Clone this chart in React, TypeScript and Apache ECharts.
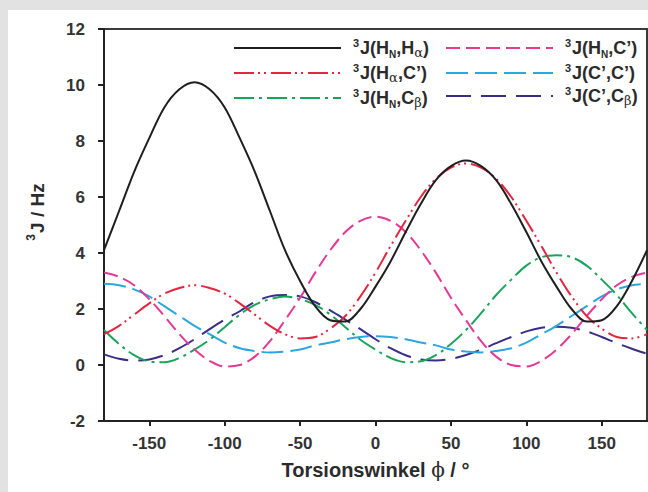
import React, { useEffect, useRef } from "react";
import * as echarts from "echarts";

// Torsion angle phi (degrees)
const phi = [-180, -170, -160, -150, -140, -130, -120, -110, -100, -90, -80, -70, -60, -50, -40, -30, -20, -10, 0, 10, 20, 30, 40, 50, 60, 70, 80, 90, 100, 110, 120, 130, 140, 150, 160, 170, 180];

// 3J coupling constants (Hz)
const jHNHa = [4.1, 5.5, 6.9, 8.1, 9.2, 9.85, 10.1, 9.85, 9.2, 8.1, 6.9, 5.5, 4.1, 3.0, 2.1, 1.6, 1.55, 2.0, 2.8, 3.7, 4.75, 5.75, 6.6, 7.1, 7.3, 7.1, 6.6, 5.75, 4.75, 3.7, 2.8, 2.0, 1.55, 1.6, 2.1, 3.0, 4.1];
const jHNC = [3.3, 3.15, 2.85, 2.35, 1.75, 1.1, 0.55, 0.15, -0.05, 0.0, 0.3, 0.85, 1.6, 2.4, 3.3, 4.1, 4.75, 5.15, 5.3, 5.15, 4.75, 4.1, 3.3, 2.4, 1.6, 0.85, 0.3, 0.0, -0.05, 0.15, 0.55, 1.1, 1.75, 2.35, 2.85, 3.15, 3.3];
const jHaC = [1.1, 1.4, 1.8, 2.2, 2.55, 2.75, 2.85, 2.75, 2.55, 2.2, 1.8, 1.4, 1.1, 0.95, 1.0, 1.3, 1.75, 2.45, 3.3, 4.25, 5.15, 6.0, 6.65, 7.05, 7.2, 7.05, 6.65, 6.0, 5.15, 4.25, 3.3, 2.45, 1.75, 1.3, 1.0, 0.95, 1.1];
const jCC = [2.9, 2.85, 2.7, 2.45, 2.1, 1.75, 1.4, 1.1, 0.8, 0.6, 0.5, 0.45, 0.48, 0.55, 0.7, 0.8, 0.92, 1.0, 1.03, 1.0, 0.92, 0.8, 0.7, 0.55, 0.48, 0.45, 0.5, 0.6, 0.8, 1.1, 1.4, 1.75, 2.1, 2.45, 2.7, 2.85, 2.9];
const jHNCb = [1.25, 0.75, 0.35, 0.13, 0.1, 0.25, 0.55, 0.9, 1.35, 1.8, 2.15, 2.35, 2.45, 2.35, 2.15, 1.8, 1.35, 0.9, 0.55, 0.25, 0.1, 0.13, 0.35, 0.75, 1.25, 1.85, 2.5, 3.05, 3.55, 3.85, 3.92, 3.85, 3.55, 3.05, 2.5, 1.85, 1.25];
const jCCb = [0.38, 0.22, 0.16, 0.2, 0.35, 0.6, 0.92, 1.28, 1.62, 1.92, 2.25, 2.45, 2.5, 2.45, 2.25, 1.95, 1.62, 1.28, 0.92, 0.6, 0.35, 0.2, 0.16, 0.22, 0.36, 0.55, 0.78, 1.0, 1.2, 1.33, 1.37, 1.33, 1.2, 1.0, 0.78, 0.58, 0.4];

const xTicks = [-150, -100, -50, 0, 50, 100, 150];

const FONT = "Liberation Sans, Arial, sans-serif";
const GREEK = "DejaVu Serif, Liberation Serif, serif";

const names = {
  HNHa: "3J(HN,Hα)",
  HaC: "3J(Hα,C')",
  HNCb: "3J(HN,Cβ)",
  HNC: "3J(HN,C')",
  CC: "3J(C',C')",
  CCb: "3J(C',Cβ)",
};

const richNames: Record<string, string> = {
  [names.HNHa]: "{sup|3}{m|J(H}{s|N}{m|,H}{g|α}{m|)}",
  [names.HaC]: "{sup|3}{m|J(H}{g|α}{m|,C’)}",
  [names.HNCb]: "{sup|3}{m|J(H}{s|N}{m|,C}{g|β}{m|)}",
  [names.HNC]: "{sup|3}{m|J(H}{s|N}{m|,C’)}",
  [names.CC]: "{sup|3}{m|J(C’,C’)}",
  [names.CCb]: "{sup|3}{m|J(C’,C}{g|β}{m|)}",
};

const TXT = "#2b2b2b";
const legendRich = {
  sup: { fontFamily: FONT, fontSize: 11, fontWeight: "bold", color: TXT, verticalAlign: "top", lineHeight: 12, padding: [0, 1, 0, 7] },
  m: { fontFamily: FONT, fontSize: 18, fontWeight: "bold", color: TXT, lineHeight: 22 },
  s: { fontFamily: FONT, fontSize: 10, fontWeight: "bold", color: TXT, verticalAlign: "bottom", lineHeight: 10 },
  g: { fontFamily: GREEK, fontSize: 13, color: TXT, verticalAlign: "bottom", lineHeight: 12 },
};

function pairs(vals: number[]) {
  return phi.map((p, i) => [p, vals[i]]);
}

export default function App() {
  const ref = useRef<HTMLDivElement>(null);

  useEffect(() => {
    if (!ref.current) return;
    const chart = echarts.init(ref.current, undefined, { renderer: "svg" });

    const mk = (name: string, vals: number[], color: string, dash: any, z: number) => ({
      name,
      type: "line",
      data: pairs(vals),
      smooth: 0.35,
      symbol: "none",
      showSymbol: false,
      z,
      lineStyle: { color, width: 2, type: dash },
      itemStyle: { color },
      emphasis: { disabled: true },
    });

    const legendBase = {
      orient: "vertical",
      top: 37,
      padding: 0,
      itemWidth: 107,
      itemHeight: 14,
      itemGap: 3,
      selectedMode: false,
      itemStyle: { opacity: 0 },
      formatter: (n: string) => richNames[n],
      textStyle: { rich: legendRich },
    };

    const option: any = {
      animation: false,
      backgroundColor: "transparent",
      graphic: [
        {
          type: "rect",
          z: -100,
          silent: true,
          shape: { x: 8, y: 10, width: 640, height: 482 },
          style: { fill: "#ffffff" },
        },
      ],
      grid: {
        left: 104,
        top: 29,
        right: 1,
        bottom: 71,
        show: true,
        backgroundColor: "transparent",
        borderColor: "#3a3a3a",
        borderWidth: 2,
      },
      legend: [
        { ...legendBase, left: 233, data: [names.HNHa, names.HaC, names.HNCb] },
        { ...legendBase, left: 445, data: [names.HNC, names.CC, names.CCb] },
      ],
      xAxis: {
        type: "value",
        min: -180,
        max: 180,
        name: "{m|Torsionswinkel }{g|ϕ}{m| / °}",
        nameLocation: "middle",
        nameGap: 37,
        nameTextStyle: {
          rich: {
            m: { fontFamily: FONT, fontSize: 20, fontWeight: "bold", color: TXT, lineHeight: 24 },
            g: { fontFamily: GREEK, fontSize: 20, color: TXT, lineHeight: 24 },
          },
        },
        axisLine: { show: true, onZero: false, lineStyle: { color: "#222", width: 2 } },
        axisTick: { show: true, customValues: xTicks, length: 5, lineStyle: { color: "#222", width: 2 } },
        axisLabel: {
          customValues: xTicks,
          margin: 14,
          fontFamily: FONT,
          fontSize: 17,
          fontWeight: "bold",
          color: "#333",
        },
        splitLine: { show: false },
      },
      yAxis: {
        type: "value",
        min: -2,
        max: 12,
        interval: 2,
        name: "{sup|3}{m|J / Hz}",
        nameLocation: "middle",
        nameGap: 55,
        nameTextStyle: {
          padding: [0, 0, 0, 26],
          rich: {
            sup: { fontFamily: FONT, fontSize: 12, fontWeight: "bold", color: TXT, verticalAlign: "top", lineHeight: 12, padding: [0, 1, 0, 0] },
            m: { fontFamily: FONT, fontSize: 19, fontWeight: "bold", color: TXT, lineHeight: 24 },
          },
        },
        axisLine: { show: true, onZero: false, lineStyle: { color: "#222", width: 2 } },
        axisTick: { show: true, length: 6, lineStyle: { color: "#222", width: 2 } },
        axisLabel: {
          margin: 19,
          fontFamily: FONT,
          fontSize: 17,
          fontWeight: "bold",
          color: "#333",
        },
        splitLine: { show: false },
      },
      series: [
        mk(names.CCb, jCCb, "#3b2d88", [25, 10], 2),
        mk(names.CC, jCC, "#2aa7df", [22, 7], 3),
        mk(names.HNCb, jHNCb, "#1aa35a", [20, 5, 3, 5], 4),
        mk(names.HNC, jHNC, "#e33a96", [14, 6], 5),
        mk(names.HaC, jHaC, "#e4253f", [20, 4, 2, 4, 2, 5], 6),
        mk(names.HNHa, jHNHa, "#1e1e1e", "solid", 7),
      ],
    };

    chart.setOption(option);
    return () => chart.dispose();
  }, []);

  return (
    <div style={{ position: "fixed", left: 0, top: 0, right: 0, bottom: 0, background: "#e2e2e2" }}>
      <div ref={ref} style={{ position: "absolute", left: 0, top: 0, width: 648, height: 492 }} />
    </div>
  );
}
